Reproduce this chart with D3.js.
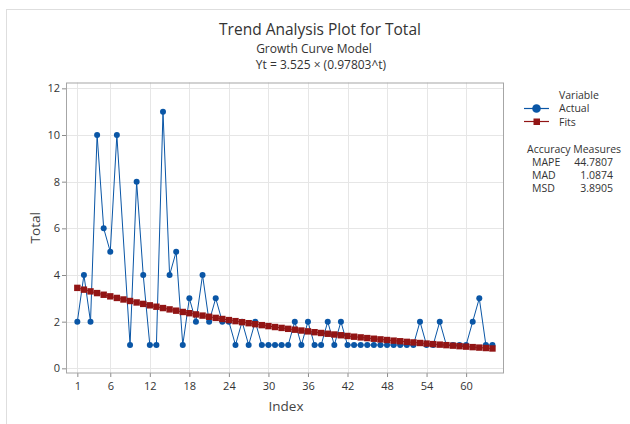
<!DOCTYPE html>
<html>
<head>
<meta charset="utf-8">
<script src="https://cdn.jsdelivr.net/npm/d3@7"></script>
<style>
  body { margin: 0; background: #fff; }
  text { font-family: "Open Sans", "Noto Sans", sans-serif; fill: #333; }
</style>
</head>
<body>
<div id="chart"></div>
<script>
var width = 630;
var height = 424;

// observation number 8 has no value (not plotted)
var index = d3.range(1, 65);
var actual = [2, 4, 2, 10, 6, 5, 10, null, 1, 8, 4, 1, 1, 11, 4, 5, 1, 3, 2, 4,
              2, 3, 2, 2, 1, 2, 1, 2, 1, 1, 1, 1, 1, 2, 1, 2, 1, 1, 2, 1,
              2, 1, 1, 1, 1, 1, 1, 1, 1, 1, 1, 1, 2, 1, 1, 2, 1, 1, 1, 1,
              2, 3, 1, 1];
var fits = [3.448, 3.372, 3.298, 3.225, 3.154, 3.085, 3.017, 2.951, 2.886, 2.823,
            2.761, 2.700, 2.641, 2.583, 2.526, 2.471, 2.416, 2.363, 2.311, 2.260,
            2.211, 2.162, 2.115, 2.068, 2.023, 1.978, 1.935, 1.892, 1.851, 1.810,
            1.770, 1.732, 1.693, 1.656, 1.620, 1.584, 1.549, 1.515, 1.482, 1.450,
            1.418, 1.387, 1.356, 1.326, 1.297, 1.269, 1.241, 1.214, 1.187, 1.161,
            1.135, 1.110, 1.086, 1.062, 1.039, 1.016, 0.994, 0.972, 0.950, 0.930,
            0.909, 0.889, 0.870, 0.851];
var xTicks = [1, 6, 12, 18, 24, 30, 36, 42, 48, 54, 60];
var yTicks = [0, 2, 4, 6, 8, 10, 12];
var measureNames = ["MAPE", "MAD", "MSD"];
var measureValues = ["44.7807", "1.0874", "3.8905"];

var blue = "#0a56a6";
var red = "#921515";

var plot = { left: 66, right: 504, top: 82.5, bottom: 373 };

var svg = d3.select("#chart").append("svg")
    .attr("width", width)
    .attr("height", height);

// outer graph border
svg.append("rect")
    .attr("x", 6.5).attr("y", 9.5)
    .attr("width", 660).attr("height", 440)
    .style("fill", "none")
    .style("stroke", "#dedede");

var xScale = d3.scaleLinear()
    .domain([-0.72, 65.75])
    .range([plot.left, plot.right]);
var yScale = d3.scaleLinear()
    .domain([-0.2, 12.25])
    .range([plot.bottom, plot.top]);

// gridlines
svg.append("g").selectAll("line")
    .data(yTicks)
    .enter().append("line")
    .attr("x1", plot.left).attr("x2", plot.right)
    .attr("y1", function(d) { return Math.round(yScale(d)) + 0.5; })
    .attr("y2", function(d) { return Math.round(yScale(d)) + 0.5; })
    .style("stroke", "#e6e6e6");
svg.append("g").selectAll("line")
    .data(xTicks)
    .enter().append("line")
    .attr("y1", plot.top).attr("y2", plot.bottom)
    .attr("x1", function(d) { return Math.round(xScale(d)) + 0.5; })
    .attr("x2", function(d) { return Math.round(xScale(d)) + 0.5; })
    .style("stroke", "#e6e6e6");

// axes
var xAxis = d3.axisBottom(xScale).tickValues(xTicks).tickSizeOuter(0).tickSize(4).tickPadding(5);
var yAxis = d3.axisLeft(yScale).tickValues(yTicks).tickSizeOuter(0).tickSize(4).tickPadding(2);

var gx = svg.append("g")
    .attr("transform", "translate(0," + plot.bottom + ")")
    .call(xAxis);
var gy = svg.append("g")
    .attr("transform", "translate(" + plot.left + ",0)")
    .call(yAxis);
[gx, gy].forEach(function(g) {
    g.select(".domain").remove();
    g.selectAll("line").style("stroke", "#8c8c8c");
    g.selectAll("text")
        .style("font-family", "'Open Sans', sans-serif")
        .style("font-size", "11px")
        .style("fill", "#333");
});

// plot frame
svg.append("rect")
    .attr("x", plot.left + 0.5).attr("y", plot.top + 0.5)
    .attr("width", plot.right - plot.left - 1)
    .attr("height", plot.bottom - plot.top - 0.5)
    .style("fill", "none")
    .style("stroke", "#a6a6a6");

var actualData = index.map(function(t, i) { return { t: t, v: actual[i] }; })
    .filter(function(d) { return d.v !== null; });
var fitData = index.map(function(t, i) { return { t: t, v: fits[i] }; });

var line = d3.line()
    .x(function(d) { return xScale(d.t); })
    .y(function(d) { return yScale(d.v); });

// actual series
svg.append("path")
    .datum(actualData)
    .attr("d", line)
    .style("fill", "none")
    .style("stroke", blue)
    .style("stroke-width", 1);
svg.append("g").selectAll("circle")
    .data(actualData)
    .enter().append("circle")
    .attr("cx", function(d) { return xScale(d.t); })
    .attr("cy", function(d) { return yScale(d.v); })
    .attr("r", 3)
    .style("fill", blue);

// fits series
svg.append("path")
    .datum(fitData)
    .attr("d", line)
    .style("fill", "none")
    .style("stroke", red)
    .style("stroke-width", 1);
var sq = 6.4;
svg.append("g").selectAll("rect")
    .data(fitData)
    .enter().append("rect")
    .attr("x", function(d) { return xScale(d.t) - sq / 2; })
    .attr("y", function(d) { return yScale(d.v) - sq / 2; })
    .attr("width", sq)
    .attr("height", sq)
    .style("fill", red);

// titles
svg.append("text")
    .attr("x", 320).attr("y", 35)
    .style("text-anchor", "middle")
    .style("font-size", "15.5px")
    .text("Trend Analysis Plot for Total");
svg.append("text")
    .attr("x", 314).attr("y", 52.5)
    .style("text-anchor", "middle")
    .style("font-size", "12px")
    .text("Growth Curve Model");
svg.append("text")
    .attr("x", 321).attr("y", 69)
    .style("text-anchor", "middle")
    .style("font-size", "12px")
    .text("Yt = 3.525 \u00d7 (0.97803^t)");

// axis labels
svg.append("text")
    .attr("x", 286).attr("y", 411)
    .style("text-anchor", "middle")
    .style("font-size", "13.5px")
    .style("fill", "#444")
    .text("Index");
svg.append("text")
    .attr("transform", "translate(40," + ((plot.top + plot.bottom) / 2) + ") rotate(-90)")
    .style("text-anchor", "middle")
    .style("font-size", "13.5px")
    .style("fill", "#444")
    .text("Total");

// legend
var legend = svg.append("g").attr("transform", "translate(522,0)");
legend.append("text").attr("x", 37).attr("y", 98.5)
    .style("font-size", "10.5px").text("Variable");
legend.append("line").attr("x1", 2).attr("x2", 27).attr("y1", 108.5).attr("y2", 108.5)
    .style("stroke", blue).style("stroke-width", 1.2);
legend.append("circle").attr("cx", 14.5).attr("cy", 108.5).attr("r", 4.3)
    .style("fill", blue);
legend.append("text").attr("x", 37).attr("y", 112)
    .style("font-size", "10.5px").text("Actual");
legend.append("line").attr("x1", 2).attr("x2", 27).attr("y1", 121.5).attr("y2", 121.5)
    .style("stroke", red).style("stroke-width", 1.2);
legend.append("rect").attr("x", 11.5).attr("y", 118.5).attr("width", 6.5).attr("height", 6.5)
    .style("fill", red);
legend.append("text").attr("x", 37).attr("y", 125.5)
    .style("font-size", "10.5px").text("Fits");

legend.append("text").attr("x", 5).attr("y", 152.5)
    .style("font-size", "10.5px").text("Accuracy Measures");
measureNames.forEach(function(name, i) {
    legend.append("text").attr("x", 10).attr("y", 165.5 + i * 13.2)
        .style("font-size", "10.5px").text(name);
    legend.append("text").attr("x", 91).attr("y", 165.5 + i * 13.2)
        .style("text-anchor", "end")
        .style("font-size", "10.5px").text(measureValues[i]);
});
</script>
</body>
</html>
